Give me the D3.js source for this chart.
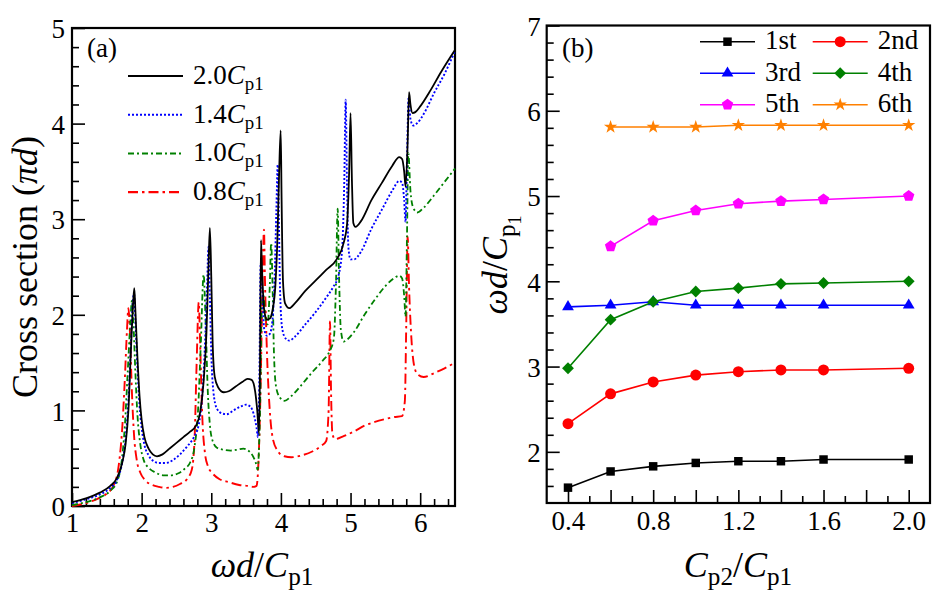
<!DOCTYPE html>
<html><head><meta charset="utf-8">
<script src="https://cdn.jsdelivr.net/npm/d3@7"></script>
<style>body{margin:0;background:#fff}</style>
</head><body>
<svg id="c" width="942" height="600"></svg>
<script>
// ---------- Panel (a): cross section vs omega d / Cp1 ----------
const curve20 = [[1.00,0.04],[1.20,0.08],[1.40,0.14],[1.55,0.21],[1.65,0.30],[1.72,0.45],[1.77,0.65],[1.81,1.00],[1.85,1.70],[1.88,2.15],[1.895,2.28],[1.91,2.05],[1.94,1.55],[1.97,1.15],[2.00,0.90],[2.04,0.72],[2.10,0.60],[2.16,0.54],[2.22,0.52],[2.30,0.54],[2.40,0.60],[2.50,0.66],[2.60,0.72],[2.70,0.78],[2.78,0.84],[2.84,0.98],[2.89,1.30],[2.93,1.80],[2.96,2.50],[2.98,2.91],[3.00,2.40],[3.02,1.70],[3.05,1.35],[3.10,1.24],[3.18,1.19],[3.25,1.20],[3.35,1.25],[3.45,1.30],[3.52,1.33],[3.58,1.32],[3.63,1.20],[3.66,1.00],[3.685,0.76],[3.70,1.50],[3.714,2.78],[3.73,2.45],[3.76,2.05],[3.80,1.95],[3.84,1.96],[3.88,2.05],[3.92,2.30],[3.95,2.80],[3.975,3.50],[3.997,3.93],[4.01,3.20],[4.03,2.35],[4.06,2.12],[4.12,2.07],[4.20,2.12],[4.35,2.25],[4.50,2.36],[4.65,2.47],[4.80,2.58],[4.90,2.75],[4.95,2.95],[4.98,3.50],[5.00,4.11],[5.02,3.40],[5.04,2.96],[5.07,2.92],[5.15,2.98],[5.30,3.20],[5.45,3.38],[5.60,3.56],[5.70,3.65],[5.74,3.63],[5.77,3.50],[5.79,3.34],[5.82,3.80],[5.84,4.33],[5.86,4.20],[5.89,4.11],[5.93,4.12],[6.00,4.18],[6.15,4.35],[6.30,4.54],[6.50,4.77]];
const curve14 = [[1.00,0.03],[1.20,0.07],[1.40,0.12],[1.55,0.19],[1.65,0.28],[1.72,0.45],[1.77,0.70],[1.81,1.10],[1.85,1.75],[1.875,2.15],[1.89,2.22],[1.91,1.95],[1.94,1.45],[1.97,1.05],[2.00,0.82],[2.04,0.64],[2.10,0.53],[2.17,0.47],[2.25,0.45],[2.35,0.45],[2.45,0.48],[2.55,0.54],[2.65,0.62],[2.75,0.72],[2.82,0.85],[2.87,1.15],[2.91,1.70],[2.94,2.30],[2.96,2.71],[2.98,2.20],[3.00,1.60],[3.03,1.20],[3.08,1.02],[3.15,0.97],[3.22,0.96],[3.32,1.00],[3.42,1.04],[3.50,1.06],[3.56,1.04],[3.61,0.96],[3.65,0.82],[3.67,0.72],[3.69,1.30],[3.71,2.54],[3.73,2.30],[3.76,1.85],[3.80,1.78],[3.84,1.80],[3.88,1.95],[3.91,2.40],[3.935,3.10],[3.954,3.57],[3.97,3.00],[3.99,2.20],[4.02,1.85],[4.07,1.75],[4.12,1.73],[4.20,1.77],[4.35,1.90],[4.50,2.03],[4.65,2.18],[4.75,2.29],[4.83,2.42],[4.88,2.70],[4.91,3.40],[4.93,4.25],[4.95,3.30],[4.97,2.70],[5.00,2.58],[5.05,2.58],[5.15,2.66],[5.30,2.90],[5.45,3.10],[5.60,3.30],[5.70,3.40],[5.74,3.38],[5.77,3.20],[5.79,2.97],[5.81,3.60],[5.835,4.28],[5.86,4.05],[5.90,3.98],[5.95,4.00],[6.05,4.10],[6.20,4.32],[6.35,4.52],[6.50,4.76]];
const curve10 = [[1.00,0.01],[1.20,0.04],[1.40,0.09],[1.55,0.16],[1.65,0.26],[1.71,0.45],[1.76,0.85],[1.80,1.40],[1.84,1.95],[1.86,2.15],[1.88,1.95],[1.91,1.40],[1.94,0.95],[1.98,0.65],[2.03,0.48],[2.10,0.40],[2.20,0.35],[2.32,0.32],[2.42,0.32],[2.52,0.34],[2.62,0.39],[2.70,0.46],[2.76,0.62],[2.81,1.00],[2.85,1.70],[2.89,2.42],[2.92,1.90],[2.95,1.20],[2.98,0.85],[3.02,0.68],[3.08,0.61],[3.17,0.59],[3.28,0.58],[3.38,0.59],[3.46,0.60],[3.53,0.58],[3.60,0.52],[3.64,0.45],[3.665,0.38],[3.70,1.00],[3.725,2.05],[3.75,2.20],[3.78,1.95],[3.81,1.90],[3.84,2.30],[3.86,2.75],[3.88,2.30],[3.90,1.60],[3.93,1.25],[3.98,1.14],[4.05,1.10],[4.15,1.15],[4.30,1.27],[4.45,1.40],[4.60,1.52],[4.70,1.62],[4.76,1.75],[4.79,2.30],[4.815,3.11],[4.835,2.40],[4.86,1.85],[4.90,1.72],[4.95,1.74],[5.05,1.82],[5.20,2.00],[5.35,2.16],[5.50,2.30],[5.62,2.38],[5.70,2.41],[5.74,2.38],[5.77,2.20],[5.79,1.98],[5.81,2.80],[5.83,3.69],[5.86,3.30],[5.90,3.12],[5.96,3.07],[6.05,3.12],[6.20,3.25],[6.35,3.39],[6.50,3.53]];
const curve08 = [[1.00,0.00],[1.20,0.03],[1.38,0.08],[1.50,0.13],[1.60,0.22],[1.67,0.42],[1.72,0.80],[1.76,1.35],[1.79,1.85],[1.81,2.07],[1.83,1.85],[1.86,1.20],[1.89,0.75],[1.93,0.48],[1.98,0.35],[2.05,0.27],[2.15,0.22],[2.25,0.20],[2.35,0.19],[2.45,0.20],[2.55,0.23],[2.65,0.28],[2.72,0.38],[2.76,0.70],[2.79,1.50],[2.82,2.13],[2.84,1.70],[2.87,0.95],[2.91,0.55],[2.95,0.42],[3.02,0.34],[3.12,0.28],[3.25,0.25],[3.40,0.22],[3.52,0.21],[3.60,0.20],[3.65,0.21],[3.68,0.50],[3.71,1.30],[3.735,2.30],[3.757,2.89],[3.77,2.40],[3.80,1.60],[3.84,1.00],[3.88,0.72],[3.95,0.58],[4.05,0.52],[4.15,0.51],[4.30,0.53],[4.45,0.57],[4.58,0.63],[4.65,0.68],[4.685,1.00],[4.705,1.93],[4.72,1.20],[4.74,0.75],[4.78,0.70],[4.90,0.73],[5.05,0.78],[5.20,0.84],[5.35,0.88],[5.50,0.91],[5.62,0.93],[5.74,0.94],[5.78,1.10],[5.80,1.90],[5.82,2.82],[5.84,2.30],[5.87,1.80],[5.91,1.48],[5.96,1.38],[6.05,1.35],[6.20,1.39],[6.35,1.44],[6.50,1.50]];
const legendFactorsA = ["2.0","1.4","1.0","0.8"];
const xTicksA = [1,2,3,4,5,6];
const yTicksA = [0,1,2,3,4,5];

// ---------- Panel (b): resonance frequency vs Cp2/Cp1 ----------
const ratioB = [0.4,0.6,0.8,1.0,1.2,1.4,1.6,2.0];
const mode1 = [1.58,1.77,1.83,1.87,1.89,1.89,1.91,1.91];
const mode2 = [2.33,2.68,2.82,2.90,2.94,2.96,2.96,2.98];
const mode3 = [3.70,3.72,3.76,3.72,3.72,3.72,3.72,3.72];
const mode4 = [2.98,3.55,3.76,3.88,3.92,3.97,3.98,4.00];
const mode5 = [null,4.41,4.71,4.83,4.91,4.94,4.96,5.00];
const mode6 = [null,5.81,5.81,5.81,5.83,5.83,5.83,5.83];
const modeNames = ["1st","2nd","3rd","4th","5th","6th"];
const xTicksB = [0.4,0.8,1.2,1.6,2.0];
const yTicksB = [2,3,4,5,6,7];

const FONT = '"Liberation Serif"';
const svg = d3.select("#c");
const TICKFS = 27, TITLEFS = 36;

function rich(g, parts, fs) {
  const t = g.append("text").attr("font-size", fs).style("font-family", FONT).attr("fill", "#000");
  let level = 0;
  const off = [0, fs * 0.22, fs * 0.38];
  parts.forEach(p => {
    const lv = p.lv || 0;
    const size = lv === 0 ? fs : (lv === 1 ? fs * 0.7 : fs * 0.5);
    const dy = off[lv] - off[level];
    const ts = t.append("tspan").text(p.t).attr("font-size", size).style("font-family", FONT);
    if (dy) ts.attr("dy", dy);
    if (p.i) ts.style("font-style", "italic");
    level = lv;
  });
  return t;
}

const xA = d3.scaleLinear().domain([1, 6.5]).range([72, 455]);
const yA = d3.scaleLinear().domain([0, 5]).range([506, 28]);
const gA = svg.append("g");

function axes(g, x, y, xMaj, xMin, yMaj, yMin, xFmt, padX, padY) {
  const b = y.range()[0], l = x.range()[0];
  g.append("g").attr("transform", `translate(0,${b})`)
    .call(d3.axisBottom(x).tickValues(xMaj).tickSize(-13).tickPadding(padX).tickFormat(xFmt));
  g.append("g").attr("transform", `translate(0,${b})`)
    .call(d3.axisBottom(x).tickValues(xMin).tickSize(-7).tickFormat(""));
  const ay = g.append("g").attr("transform", `translate(${l},0)`)
    .call(d3.axisLeft(y).tickValues(yMaj).tickSize(-13).tickPadding(padY).tickFormat(d3.format("d")));
  g.append("g").attr("transform", `translate(${l},0)`)
    .call(d3.axisLeft(y).tickValues(yMin).tickSize(-7).tickFormat(""));
  g.selectAll(".domain").remove();
  g.selectAll(".tick line").attr("stroke", "#000").attr("stroke-width", 1.6);
  g.selectAll(".tick text").attr("font-size", TICKFS).style("font-family", FONT).attr("fill", "#000");
  ay.selectAll(".tick text").attr("dy", "0.36em");
  g.append("rect").attr("x", l).attr("y", y.range()[1])
    .attr("width", x.range()[1] - l).attr("height", b - y.range()[1])
    .attr("fill", "none").attr("stroke", "#000").attr("stroke-width", 2.2);
}

const minorXA = d3.range(1, 6.5, 0.2).filter(v => Math.abs(v - Math.round(v)) > 1e-6);
const minorYA = d3.range(0, 5, 0.2).filter(v => Math.abs(v - Math.round(v)) > 1e-6);
axes(gA, xA, yA, xTicksA, minorXA, yTicksA, minorYA, d3.format("d"), 7, 7);

const lineA = d3.line().x(d => xA(d[0])).y(d => yA(d[1])).curve(d3.curveMonotoneX);
const stylesA = [
  {data: curve20, color: "#000000", dash: null, w: 1.8},
  {data: curve14, color: "#0000ff", dash: "2,2", w: 1.9},
  {data: curve10, color: "#008000", dash: "6,3,2,3", w: 1.8},
  {data: curve08, color: "#ff0000", dash: "10,4,2.5,4", w: 1.9}
];
[3,2,1,0].forEach(i => {
  const s = stylesA[i];
  gA.append("path").attr("d", lineA(s.data)).attr("fill", "none")
    .attr("stroke", s.color).attr("stroke-width", s.w)
    .attr("stroke-dasharray", s.dash).attr("stroke-linejoin", "round");
});

stylesA.forEach((s, i) => {
  const yy = 76 + i * 38.7;
  gA.append("line").attr("x1", 128).attr("x2", 183).attr("y1", yy).attr("y2", yy)
    .attr("stroke", s.color).attr("stroke-width", s.w + 0.2).attr("stroke-dasharray", s.dash);
  rich(gA, [{t: legendFactorsA[i]}, {t: "C", i: true}, {t: "p1", lv: 1}], TICKFS)
    .attr("x", 193).attr("y", yy + 8);
});
rich(gA, [{t: "(a)"}], TICKFS).attr("x", 87).attr("y", 57);

rich(gA, [{t: "ω", i: true}, {t: "d", i: true}, {t: "/"}, {t: "C", i: true}, {t: "p1", lv: 1}], TITLEFS)
  .attr("x", 262).attr("y", 577).attr("text-anchor", "middle");
rich(gA, [{t: "Cross section ("}, {t: "π", i: true}, {t: "d", i: true}, {t: ")"}], TITLEFS)
  .attr("text-anchor", "middle").attr("transform", "translate(37,267) rotate(-90)");

const xB = d3.scaleLinear().domain([0.3, 2.1]).range([546.7, 930]);
const yB = d3.scaleLinear().domain([1.4, 7]).range([503, 25.5]);
const gB = svg.append("g");
const majXB = d3.range(0.4, 2.01, 0.2);
const minXB = d3.range(0.5, 2.0, 0.2);
const minorYB = d3.range(1.6, 7, 0.2).filter(v => Math.abs(v - Math.round(v)) > 1e-6);
axes(gB, xB, yB, majXB, minXB, yTicksB, minorYB,
  v => xTicksB.some(t => Math.abs(t - v) < 1e-6) ? d3.format(".1f")(v) : "", 8, 6);

const pentagon = {draw(ctx, size) {
  const r = Math.sqrt(size / 2.378);
  for (let k = 0; k < 5; k++) {
    const a = -Math.PI / 2 + k * 2 * Math.PI / 5;
    if (k === 0) ctx.moveTo(r * Math.cos(a), r * Math.sin(a)); else ctx.lineTo(r * Math.cos(a), r * Math.sin(a));
  }
  ctx.closePath();
}};
const diamond = {draw(ctx, size) {
  const r = Math.sqrt(size / 2);
  ctx.moveTo(0, -r); ctx.lineTo(r, 0); ctx.lineTo(0, r); ctx.lineTo(-r, 0); ctx.closePath();
}};
const modesB = [
  {v: mode1, color: "#000000", sym: d3.symbolSquare, size: 72},
  {v: mode2, color: "#ff0000", sym: d3.symbolCircle, size: 95},
  {v: mode3, color: "#0000ff", sym: d3.symbolTriangle, size: 60},
  {v: mode4, color: "#008000", sym: diamond, size: 70},
  {v: mode5, color: "#ff00ff", sym: pentagon, size: 85},
  {v: mode6, color: "#ff8000", sym: d3.symbolStar, size: 55}
];
const lineB = d3.line().defined(d => d[1] != null).x(d => xB(d[0])).y(d => yB(d[1]));
modesB.forEach(m => {
  const pts = ratioB.map((r, i) => [r, m.v[i]]);
  gB.append("path").attr("d", lineB(pts)).attr("fill", "none").attr("stroke", m.color).attr("stroke-width", 1.6);
  gB.selectAll(null).data(pts.filter(d => d[1] != null)).enter().append("path")
    .attr("d", d3.symbol().type(m.sym).size(m.size))
    .attr("transform", d => `translate(${xB(d[0])},${yB(d[1])})`)
    .attr("fill", m.color);
});

modesB.forEach((m, i) => {
  const col = i % 2, row = Math.floor(i / 2);
  const yy = 41.7 + row * 31.5;
  const x1 = col === 0 ? 700 : 812.7;
  gB.append("line").attr("x1", x1).attr("x2", x1 + 55).attr("y1", yy).attr("y2", yy)
    .attr("stroke", m.color).attr("stroke-width", 1.6);
  gB.append("path").attr("d", d3.symbol().type(m.sym).size(m.size))
    .attr("transform", `translate(${x1 + 27.5},${yy})`).attr("fill", m.color);
  rich(gB, [{t: modeNames[i]}], TICKFS).attr("x", x1 + 65).attr("y", yy + 7.5);
});
rich(gB, [{t: "(b)"}], TICKFS).attr("x", 562).attr("y", 57);

rich(gB, [{t: "C", i: true}, {t: "p2", lv: 1}, {t: "/"}, {t: "C", i: true}, {t: "p1", lv: 1}], TITLEFS)
  .attr("x", 738).attr("y", 577).attr("text-anchor", "middle");
rich(gB, [{t: "ω", i: true}, {t: "d", i: true}, {t: "/"}, {t: "C", i: true}, {t: "p", lv: 1}, {t: "1", lv: 2}], TITLEFS)
  .attr("text-anchor", "middle").attr("transform", "translate(507,265) rotate(-90)");
</script>
</body></html>
